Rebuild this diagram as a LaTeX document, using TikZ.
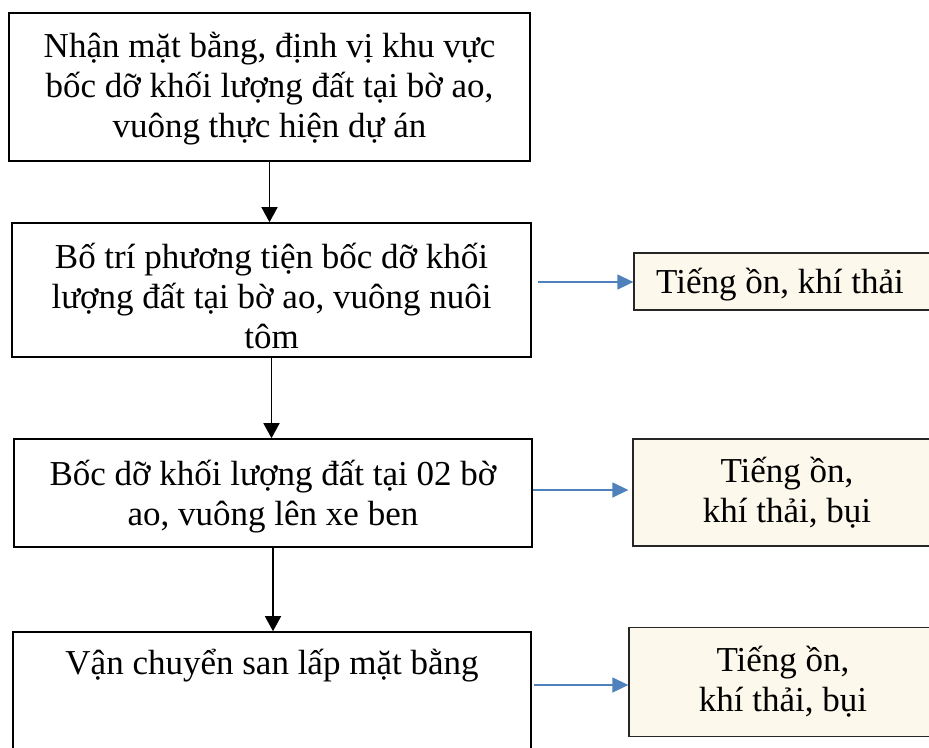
\documentclass[tikz,border=0pt]{standalone}
\usepackage{fontspec}
\setmainfont{Liberation Serif}
\usetikzlibrary{arrows.meta}
\definecolor{cream}{RGB}{253,248,236}
\definecolor{arrowblue}{RGB}{79,129,189}
\begin{document}
\begin{tikzpicture}[x=1pt,y=-1pt,
  txtfont/.style={font=\fontsize{35}{40}\selectfont},
  mainbox/.style={draw=black, line width=1.6pt, inner sep=0pt},
  sidebox/.style={draw=black!85, line width=1.3pt, fill=cream, inner sep=0pt, align=center, txtfont},
  plaintext/.style={inner sep=0pt, align=center, txtfont},
  flow/.style={-{Triangle[width=16pt,length=15pt]}, line width=1.5pt},
  emit/.style={-{Triangle[width=15pt,length=16pt]}, line width=1.4pt, draw=arrowblue, fill=arrowblue}]
\useasboundingbox (0,0) rectangle (929,747);
\clip (0,0) rectangle (929,747);

% main column
\node[mainbox, minimum width=521pt, minimum height=148pt] (b1) at (269.5,87) {};
\node[plaintext] (t1) at (269.5,89)
  {Nhận mặt bằng, định vị khu vực\\bốc dỡ khối lượng đất tại bờ ao,\\vuông thực hiện dự án};
\node[mainbox, minimum width=519pt, minimum height=134pt] (b2) at (271.5,290) {};
\node[plaintext] (t2) at (271.5,296)
  {Bố trí phương tiện bốc dỡ khối\\lượng đất tại bờ ao, vuông nuôi\\tôm};
\node[mainbox, minimum width=518pt, minimum height=108pt] (b3) at (273,493) {};
\node[plaintext] (t3) at (273,497)
  {Bốc dỡ khối lượng đất tại 02 bờ\\ao, vuông lên xe ben};
\node[mainbox, minimum width=518pt, minimum height=168pt] (b4) at (272,716) {};
\node[plaintext] (t4) at (272,666) {Vận chuyển san lấp mặt bằng};

% side boxes
\node[sidebox, minimum width=307pt, minimum height=57pt] (r1) at (787.5,281.5) {};
\node[plaintext, anchor=west] (tr1) at (656,285) {Tiếng ồn, khí thải};
\node[sidebox, minimum width=308pt, minimum height=107pt] (r2) at (787,492.5)
  {Tiếng ồn,\\khí thải, bụi};
\node[sidebox, minimum width=308pt, minimum height=109pt] (r3) at (783,682)
  {Tiếng ồn,\\khí thải, bụi};

% flow arrows
\draw[flow] (b1.south) -- (b1.south |- b2.north);
\draw[flow] (b2.south) -- (b2.south |- b3.north);
\draw[flow] (b3.south) -- (b3.south |- b4.north);

% emission arrows
\coordinate (e1) at (538,282);
\coordinate (e2) at (533,490);
\coordinate (e3) at (534,685);
\draw[emit] (e1) -- (e1 -| r1.west);
\draw[emit, shorten >=4pt] (e2) -- (e2 -| r2.west);
\draw[emit] (e3) -- (e3 -| r3.west);
\end{tikzpicture}
\end{document}
